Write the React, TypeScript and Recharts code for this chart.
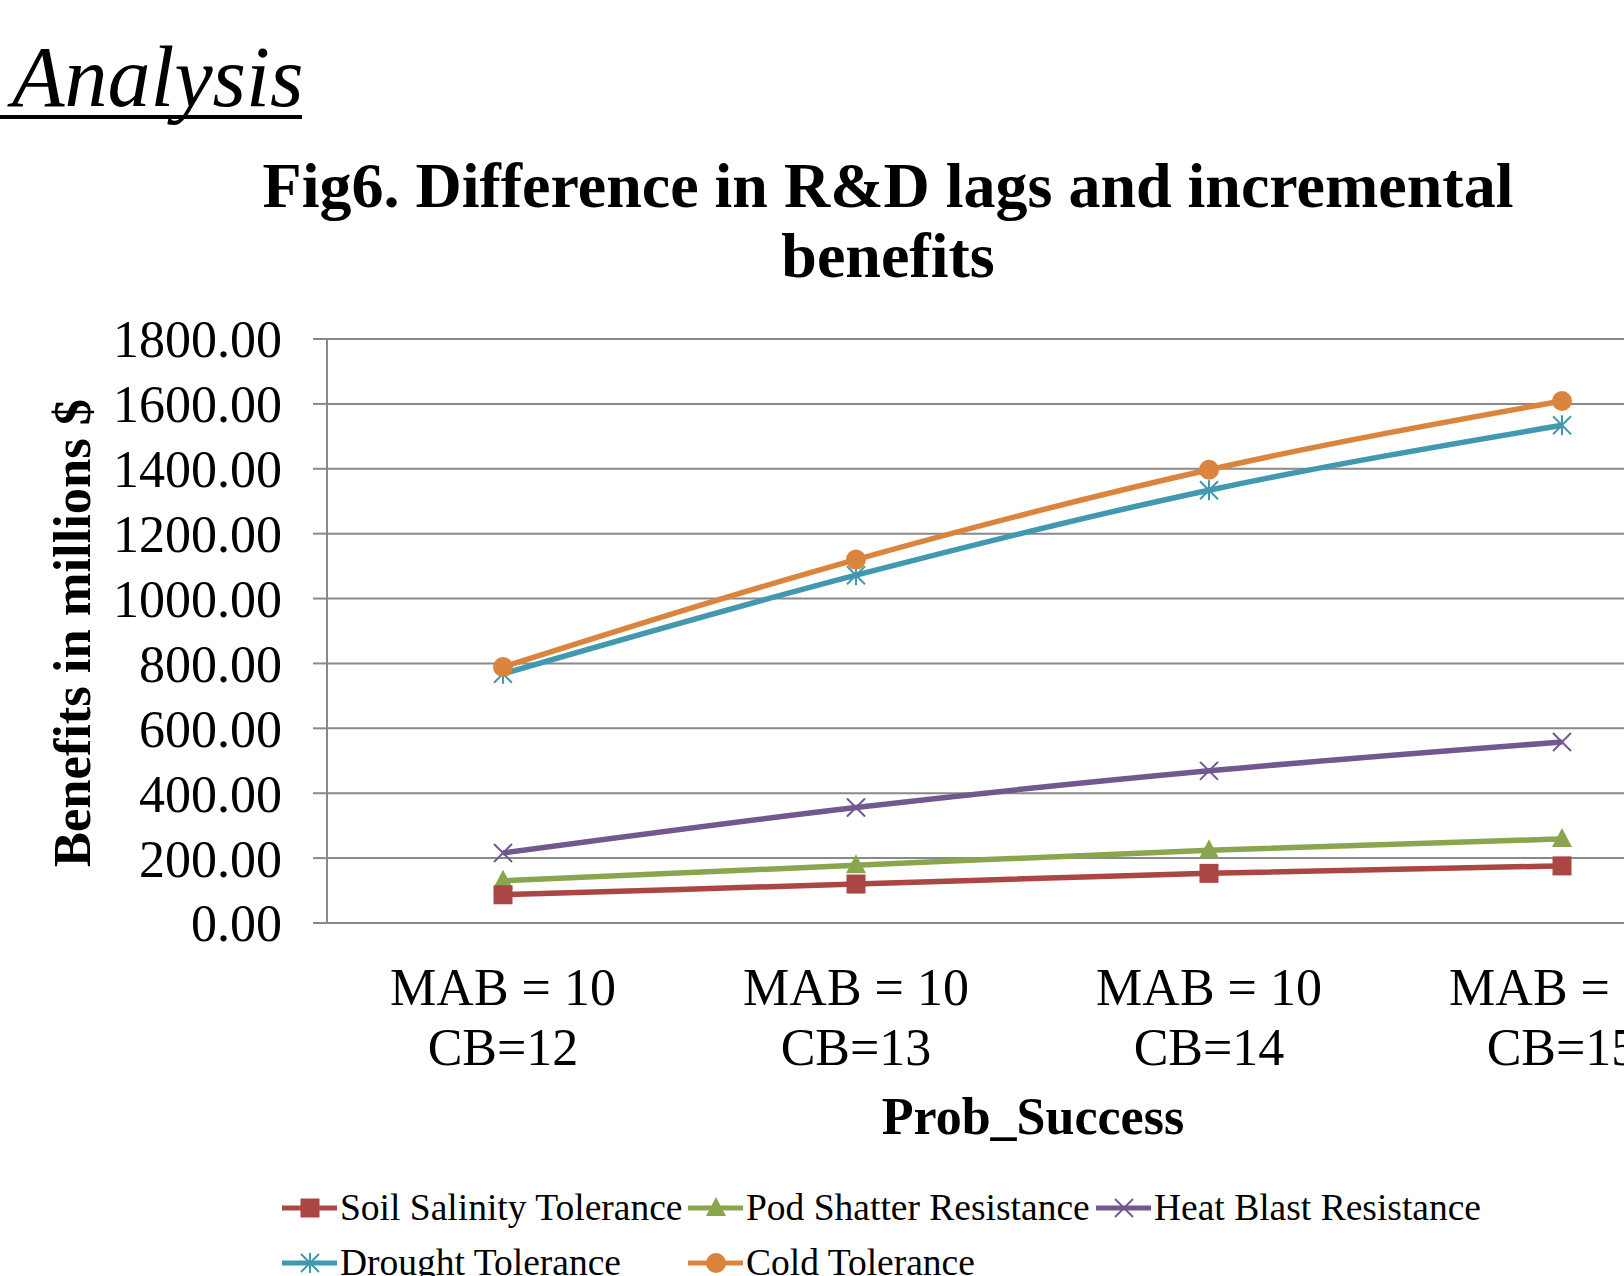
import React from 'react';
import { LineChart, Line, XAxis, YAxis, CartesianGrid, Legend } from 'recharts';

const mabLabels = ['MAB = 10', 'MAB = 10', 'MAB = 10', 'MAB = 10'];
const cbLabels = ['CB=12', 'CB=13', 'CB=14', 'CB=15'];

const soilSalinity = [87, 120, 153, 176];
const podShatter = [130, 178, 224, 259];
const heatBlast = [216, 356, 469, 558];
const drought = [768, 1072, 1334, 1534];
const cold = [789, 1120, 1397, 1609];

const yTicks = [0, 200, 400, 600, 800, 1000, 1200, 1400, 1600, 1800];

const FONT = "'Liberation Serif', 'Times New Roman', serif";
const GRID = '#898989';

// legend order
const series = [
  { key: 'soil', name: 'Soil Salinity Tolerance', color: '#AA4643', shape: 'square', values: soilSalinity },
  { key: 'pod', name: 'Pod Shatter Resistance', color: '#89A54E', shape: 'triangle', values: podShatter },
  { key: 'heat', name: 'Heat Blast Resistance', color: '#71588F', shape: 'x', values: heatBlast },
  { key: 'drought', name: 'Drought Tolerance', color: '#4198AF', shape: 'star', values: drought },
  { key: 'cold', name: 'Cold Tolerance', color: '#DB843D', shape: 'circle', values: cold },
];

// draw order (red markers sit over green ones, orange over teal)
const drawOrder = ['pod', 'soil', 'heat', 'drought', 'cold'];

const rows = cbLabels.map((cb, i) => {
  const row: any = { cb, mab: mabLabels[i] };
  series.forEach((s) => {
    row[s.key] = s.values[i];
  });
  return row;
});

function Marker({ shape, cx, cy, color }: { shape: string; cx: number; cy: number; color: string }) {
  if (cx == null || cy == null) return null;
  switch (shape) {
    case 'square':
      return <rect x={cx - 9.5} y={cy - 9.5} width={19} height={19} fill={color} />;
    case 'triangle':
      return <polygon points={`${cx},${cy - 11} ${cx + 10},${cy + 8} ${cx - 10},${cy + 8}`} fill={color} />;
    case 'x':
      return (
        <g stroke={color} strokeWidth={2}>
          <line x1={cx - 9} y1={cy - 9} x2={cx + 9} y2={cy + 9} />
          <line x1={cx - 9} y1={cy + 9} x2={cx + 9} y2={cy - 9} />
        </g>
      );
    case 'star':
      return (
        <g stroke={color} strokeWidth={2}>
          <line x1={cx - 9} y1={cy - 9} x2={cx + 9} y2={cy + 9} />
          <line x1={cx - 9} y1={cy + 9} x2={cx + 9} y2={cy - 9} />
          <line x1={cx} y1={cy - 10} x2={cx} y2={cy + 10} />
        </g>
      );
    default:
      return <circle cx={cx} cy={cy} r={10} fill={color} />;
  }
}

const XTick = (props: any) => {
  const { x, y, payload } = props;
  const i = cbLabels.indexOf(payload.value);
  return (
    <text textAnchor="middle" fontSize={52} fontFamily={FONT} fill="#000">
      <tspan x={x} y={y + 82}>{mabLabels[i]}</tspan>
      <tspan x={x} y={y + 142}>{cbLabels[i]}</tspan>
    </text>
  );
};

const LegendBox = () => (
  <div
    style={{
      display: 'grid',
      gridTemplateColumns: '406px 408px 420px',
      gridAutoRows: '55px',
      fontFamily: FONT,
      fontSize: 37.5,
      color: '#000',
    }}
  >
    {series.map((s) => (
      <div key={s.key} style={{ display: 'flex', alignItems: 'center', whiteSpace: 'nowrap', lineHeight: '55px' }}>
        <svg width={58} height={30} style={{ flex: 'none' }}>
          <line x1={0} y1={15} x2={55} y2={15} stroke={s.color} strokeWidth={5} />
          <Marker shape={s.shape} cx={28} cy={15} color={s.color} />
        </svg>
        <span>{s.name}</span>
      </div>
    ))}
  </div>
);

export default function App() {
  return (
    <div
      style={{
        position: 'absolute',
        left: 0,
        top: 0,
        width: 1624,
        height: 1276,
        overflow: 'hidden',
        background: '#fff',
        fontFamily: FONT,
      }}
    >
      <LineChart width={1760} height={1276} data={rows} margin={{ top: 339, right: 22, bottom: 203, left: 0 }}>
        <CartesianGrid vertical={false} stroke={GRID} strokeWidth={2} />
        <XAxis
          dataKey="cb"
          height={150}
          padding={{ left: 176, right: 176 }}
          tickLine={false}
          tickSize={0}
          tickMargin={0}
          axisLine={{ stroke: GRID, strokeWidth: 2 }}
          tick={<XTick />}
          interval={0}
        />
        <YAxis
          width={327}
          domain={[0, 1800]}
          ticks={yTicks}
          interval={0}
          tickFormatter={(v: number) => v.toFixed(2)}
          tickSize={14}
          tickMargin={31}
          tickLine={{ stroke: GRID, strokeWidth: 2 }}
          axisLine={{ stroke: GRID, strokeWidth: 2 }}
          tick={{ fontSize: 52, fill: '#000', fontFamily: FONT }}
        />
        <Legend
          layout="horizontal"
          verticalAlign="middle"
          align="center"
          wrapperStyle={{ top: 1180, left: 282, width: 1240, height: 110 }}
          content={() => <LegendBox />}
        />
        {drawOrder.map((k) => {
          const s = series.find((d) => d.key === k)!;
          return (
            <Line
              key={s.key}
              type="monotone"
              dataKey={s.key}
              name={s.name}
              stroke={s.color}
              strokeWidth={5.5}
              dot={(p: any) => <Marker key={`${s.key}-${p.index}`} shape={s.shape} cx={p.cx} cy={p.cy} color={s.color} />}
              activeDot={false}
              isAnimationActive={false}
            />
          );
        })}
      </LineChart>
      <svg
        width={1624}
        height={1276}
        style={{ position: 'absolute', left: 0, top: 0, pointerEvents: 'none' }}
        fontFamily={FONT}
      >
        <text x={12} y={106} fontSize={86} fontStyle="italic" fill="#000">Analysis</text>
        <rect x={0} y={115} width={302} height={4} fill="#000" />
        <text x={888} y={207} fontSize={64} fontWeight="bold" textAnchor="middle" fill="#000">
          Fig6. Difference in R&amp;D lags and incremental
        </text>
        <text x={888} y={277} fontSize={64} fontWeight="bold" textAnchor="middle" fill="#000">benefits</text>
        <text transform="translate(90,633) rotate(-90)" fontSize={52.5} fontWeight="bold" textAnchor="middle" fill="#000">
          Benefits in millions $
        </text>
        <text x={1033} y={1134} fontSize={52} fontWeight="bold" textAnchor="middle" fill="#000">Prob_Success</text>
      </svg>
    </div>
  );
}
